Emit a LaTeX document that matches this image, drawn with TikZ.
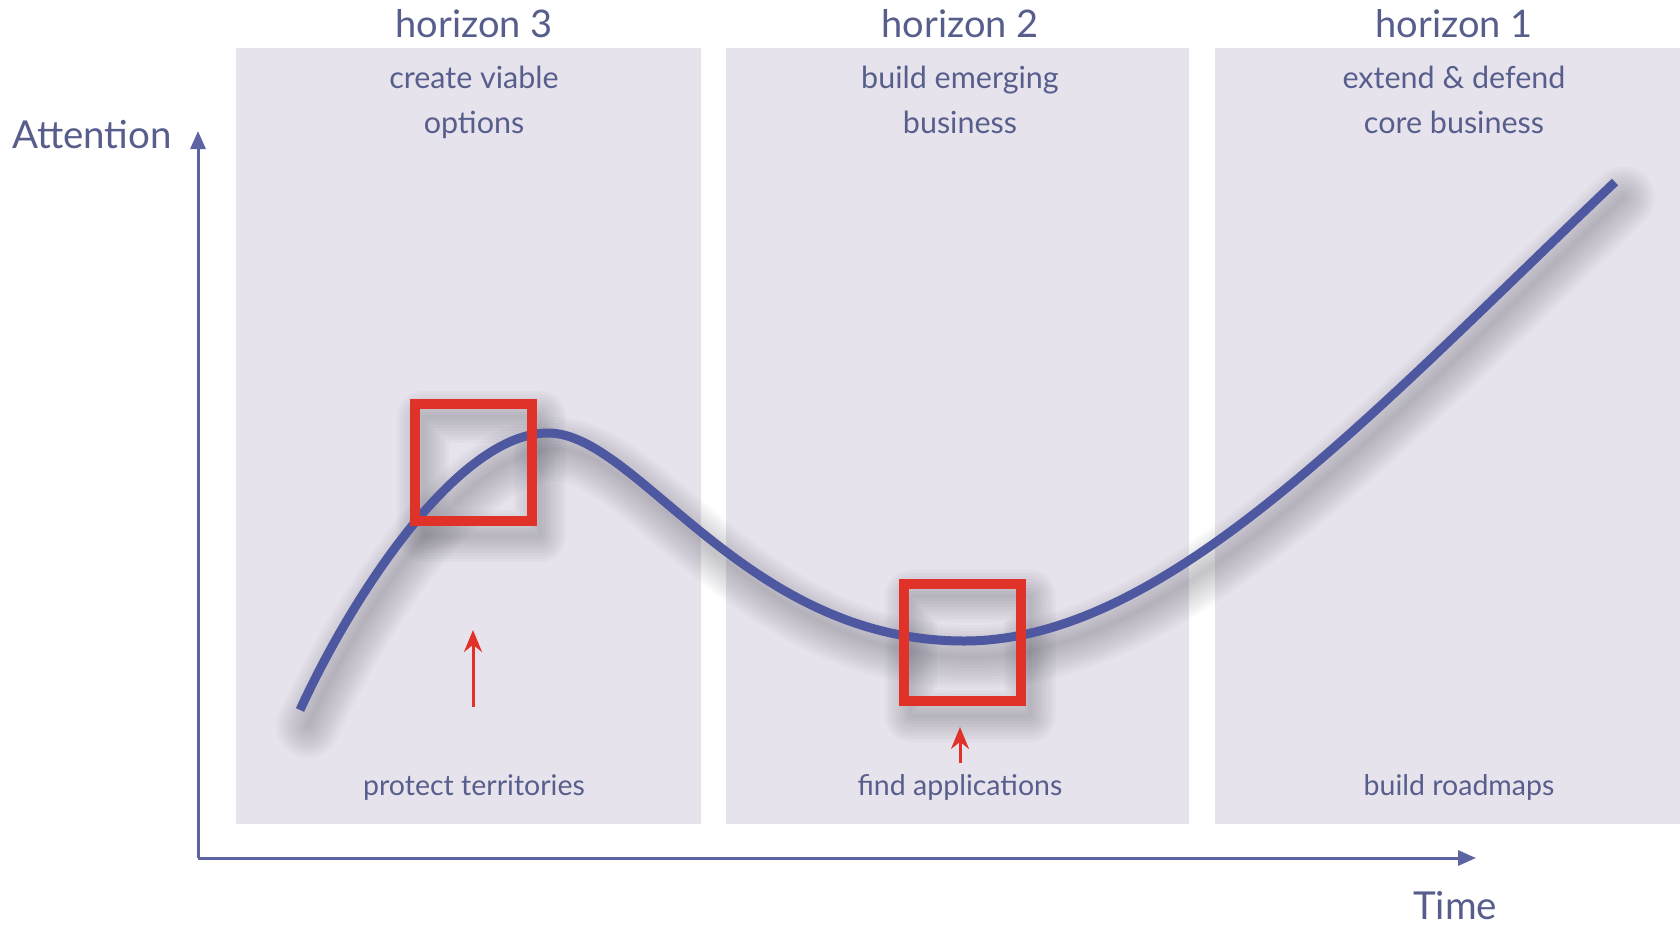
\documentclass[tikz,border=0pt]{standalone}
\usepackage{fontspec}
\setmainfont{Lato}
\usetikzlibrary{arrows.meta}
\definecolor{panelc}{RGB}{230,227,237}
\definecolor{curvec}{RGB}{78,88,160}
\definecolor{redc}{RGB}{224,50,40}
\definecolor{textc}{RGB}{88,94,140}
\definecolor{axisc}{RGB}{92,100,162}
\definecolor{shadc}{RGB}{60,60,70}
\tikzset{
  panel/.style={fill=panelc, draw=none, anchor=north west, inner sep=0pt},
  title/.style={text=textc, anchor=base, font=\fontsize{38}{42}\selectfont, inner sep=0pt},
  sub/.style={text=textc, anchor=base, font=\fontsize{30.5}{34}\selectfont, inner sep=0pt},
  bottom/.style={text=textc, anchor=base, font=\fontsize{28.5}{32}\selectfont, inner sep=0pt},
  axlabel/.style={text=textc, anchor=base, font=\fontsize{38.5}{42}\selectfont, inner sep=0pt},
  axisline/.style={draw=axisc, line width=3pt, -{Triangle[length=18pt,width=15pt]}},
  redbox/.style={draw=redc, line width=10pt, minimum size=117pt, inner sep=0pt},
  redarrow/.style={draw=redc, line width=3pt, -{Stealth[length=22pt,width=18pt]}},
  curveline/.style={draw=curvec, line width=9pt},
}
\newcommand{\curvepath}{(300,710) .. controls (355,590) and (460,433) .. (548,433) .. controls (638,433) and (744,641) .. (964,641) .. controls (1164,641) and (1365,420) .. (1615,182)}
\begin{document}
\begin{tikzpicture}[x=1pt,y=-1pt]
\useasboundingbox (0,0) rectangle (1680,924);
\fill[white] (0,0) rectangle (1680,924);
% panels
\node[panel, minimum width=465pt, minimum height=776pt] (p3) at (236,48) {};
\node[panel, minimum width=463pt, minimum height=776pt] (p2) at (726,48) {};
\node[panel, minimum width=465pt, minimum height=776pt] (p1) at (1215,48) {};
% titles
\node[title] (t3) at (474,37) {horizon 3};
\node[title] (t2) at (960,37) {horizon 2};
\node[title] (t1) at (1454,37) {horizon 1};
\node[sub] (s3a) at (474,88) {create viable};
\node[sub] (s3b) at (474,133) {options};
\node[sub] (s2a) at (960,88) {build emerging};
\node[sub] (s2b) at (960,133) {business};
\node[sub] (s1a) at (1454,88) {extend \& defend};
\node[sub] (s1b) at (1454,133) {core business};
\node[bottom] (b3) at (474,795) {protect territories};
\node[bottom] (b2) at (960,795) {find applications};
\node[bottom] (b1) at (1459,795) {build roadmaps};
% axes
\coordinate (O) at (198,858);
\coordinate (Ytip) at (198,131);
\coordinate (Xtip) at (1476,858);
\draw[axisline] (O) -- (Ytip);
\draw[axisline] (O) -- (Xtip);
\node[axlabel] (att) at (92,148) {Attention};
\node[axlabel] (time) at (1455,919) {Time};
% box shadows
\foreach \w in {4,10,...,52} {
  \draw[shadc, line width=\w pt, opacity=0.03, line join=round, shift={(8,14)}] (415,403) rectangle (532,522);
  \draw[shadc, line width=\w pt, opacity=0.03, line join=round, shift={(8,14)}] (903,582) rectangle (1022,702);
}
% curve shadow
\foreach \w in {4,10,...,64} {
  \draw[shadc, line width=\w pt, opacity=0.026, line cap=round, shift={(8,16)}] \curvepath;
}
% curve
\draw[curveline] \curvepath;
% red boxes
\node[redbox] (box1) at (473.5,462.5) {};
\node[redbox] (box2) at (962.5,642) {};
% red arrows
\coordinate (r1s) at (473,707);
\coordinate (r1e) at (473,630);
\coordinate (r2s) at (960,763);
\coordinate (r2e) at (960,727);
\draw[redarrow] (r1s) -- (r1e);
\draw[redarrow] (r2s) -- (r2e);
\end{tikzpicture}
\end{document}
